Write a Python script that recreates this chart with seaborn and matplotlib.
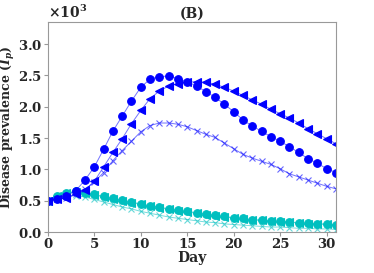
import numpy as np
import pandas as pd
import matplotlib
matplotlib.use('Agg')
import matplotlib.pyplot as plt
import seaborn as sns

days = list(range(32))

# blue group (values as counts; axis shows x10^3)
blue_circle = [500, 530, 580, 660, 830, 1040, 1320, 1610, 1850, 2090, 2310, 2440, 2480, 2490,
               2450, 2400, 2330, 2240, 2150, 2040, 1920, 1790, 1690, 1610, 1520, 1450, 1360,
               1270, 1170, 1100, 1010, 950]
blue_tri = [500, 520, 550, 600, 670, 810, 1040, 1270, 1490, 1730, 1940, 2130, 2250, 2330,
            2370, 2390, 2400, 2390, 2360, 2310, 2250, 2180, 2110, 2040, 1960, 1890, 1820,
            1740, 1650, 1570, 1490, 1410]
blue_x = [500, 520, 550, 600, 680, 800, 950, 1140, 1300, 1450, 1600, 1700, 1740, 1740,
          1720, 1680, 1620, 1560, 1510, 1420, 1330, 1240, 1180, 1130, 1080, 1010, 930,
          880, 830, 780, 730, 690]

# cyan group
cyan_circle = [500, 580, 630, 650, 630, 600, 570, 540, 510, 480, 450, 420, 400, 370,
               350, 330, 310, 290, 270, 250, 230, 220, 200, 190, 180, 170, 160, 150,
               140, 130, 130, 120]
cyan_tri = [500, 570, 620, 640, 620, 590, 560, 530, 500, 470, 440, 410, 390, 360,
            340, 320, 300, 280, 260, 240, 225, 210, 195, 185, 175, 165, 155, 145,
            135, 128, 122, 115]
cyan_x = [500, 530, 570, 580, 560, 520, 480, 440, 400, 370, 330, 300, 270, 240,
          220, 200, 180, 160, 150, 130, 120, 110, 100, 90, 80, 80, 70, 60, 60, 50, 50, 40]

sns.set_style('ticks')
plt.rcParams['font.family'] = ['DejaVu Serif']
plt.rcParams['font.weight'] = 'bold'
plt.rcParams['mathtext.fontset'] = 'custom'
plt.rcParams['mathtext.rm'] = 'DejaVu Serif:bold'
plt.rcParams['mathtext.it'] = 'DejaVu Serif:italic:bold'
plt.rcParams['mathtext.bf'] = 'DejaVu Serif:bold'

fig = plt.figure(figsize=(3.74, 2.73), dpi=100)
ax = fig.add_axes([0.128, 0.150, 0.770, 0.769])

blue = '#0000ff'
cyan = '#00bfbf'
series = [
    (cyan_x, cyan, 'x', 4.5, 0.6),
    (cyan_tri, cyan, '<', 5.5, 1.0),
    (cyan_circle, cyan, 'o', 5.5, 1.0),
    (blue_x, blue, 'x', 4.5, 0.6),
    (blue_tri, blue, '<', 5.5, 1.0),
    (blue_circle, blue, 'o', 5.5, 1.0),
]
for vals, col, mk, ms, a in series:
    sns.lineplot(x=days, y=vals, ax=ax, color=col, linewidth=0.7, alpha=0.55)
    sns.lineplot(x=days, y=vals, ax=ax, color=col, marker=mk, markersize=ms,
                 markeredgecolor=col, markerfacecolor=col, markeredgewidth=0.8,
                 linestyle='none', alpha=a)

ax.set_xlim(0, 31)
ax.set_ylim(0, 3350)
ax.set_xticks([0, 5, 10, 15, 20, 25, 30])
ax.set_yticks([0, 500, 1000, 1500, 2000, 2500, 3000])
ax.ticklabel_format(axis='y', style='sci', scilimits=(0, 0), useMathText=True)
ax.yaxis.get_offset_text().set_fontsize(10)
ax.yaxis.get_offset_text().set_fontweight('bold')

ax.tick_params(axis='both', labelsize=9.5, length=3, color='#999999', pad=1)
for lab in ax.get_xticklabels() + ax.get_yticklabels():
    lab.set_fontweight('bold')
for sp in ax.spines.values():
    sp.set_color('#999999')
    sp.set_linewidth(0.8)

ax.set_xlabel('Day', fontsize=10, fontweight='bold', labelpad=0)
ax.set_ylabel('Disease prevalence ($I_p$)', fontsize=9, fontweight='bold', labelpad=0.5)
ax.set_title('(B)', fontsize=10, fontweight='bold', pad=3)

fig.savefig('out.png', dpi=100)
